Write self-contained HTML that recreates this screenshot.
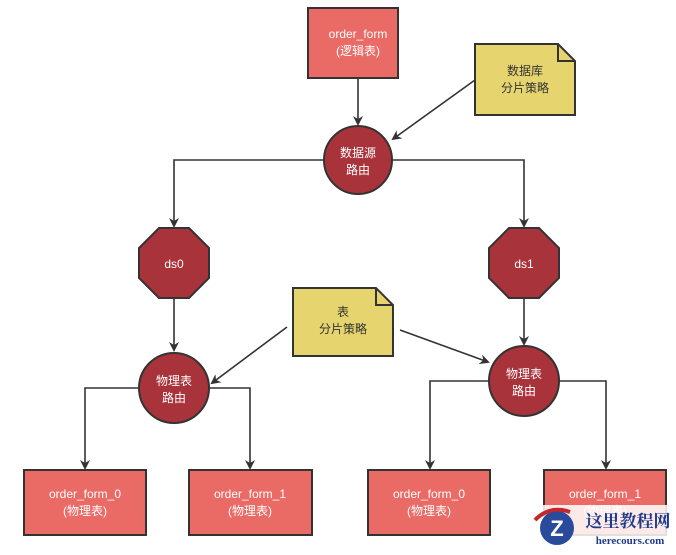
<!DOCTYPE html>
<html><head><meta charset="utf-8"><style>
body{margin:0;background:#fff;}
svg text{font-family:"Liberation Sans","Noto Sans CJK SC",sans-serif;font-size:12px;text-anchor:middle;}
</style></head><body>
<svg width="676" height="550" viewBox="0 0 676 550" xmlns="http://www.w3.org/2000/svg">
<defs><marker id="a" markerWidth="10" markerHeight="10" refX="8" refY="5" orient="auto" markerUnits="userSpaceOnUse"><path d="M0,0 L10,5 L0,10 L3,5 Z" fill="#333"/></marker></defs>
<g stroke="#333" stroke-width="1.6" fill="none">
<path d="M358,78 V124" marker-end="url(#a)"/>
<path d="M475,80 L393,139" marker-end="url(#a)"/>
<path d="M324,160 H174 V226" marker-end="url(#a)"/>
<path d="M392,160 H524 V226" marker-end="url(#a)"/>
<path d="M174,298 V350" marker-end="url(#a)"/>
<path d="M524,298 V344" marker-end="url(#a)"/>
<path d="M287,327 L212,383" marker-end="url(#a)"/>
<path d="M400,330 L488,362" marker-end="url(#a)"/>
<path d="M139,388 H85 V468" marker-end="url(#a)"/>
<path d="M209,388 H250 V468" marker-end="url(#a)"/>
<path d="M489,381 H430 V468" marker-end="url(#a)"/>
<path d="M559,381 H606 V468" marker-end="url(#a)"/>
</g>
<g stroke="#333" stroke-width="2">
<rect x="308" y="8" width="90" height="70" fill="#EA6B66"/>
<path d="M475,44 H558 L575,61 V115 H475 Z" fill="#E6D46F"/>
<path d="M558,44 V61 H575" fill="none"/>
<path d="M293,288 H376 L393,305 V356 H293 Z" fill="#E6D46F"/>
<path d="M376,288 V305 H393" fill="none"/>
<circle cx="358" cy="160" r="34" fill="#A9333A"/>
<polygon points="159,228 189,228 209,248 209,278 189,298 159,298 139,278 139,248" fill="#A9333A"/>
<polygon points="509,228 539,228 559,248 559,278 539,298 509,298 489,278 489,248" fill="#A9333A"/>
<circle cx="174" cy="388" r="35" fill="#A9333A"/>
<circle cx="524" cy="381" r="35" fill="#A9333A"/>
<rect x="24" y="470" width="122" height="65" fill="#EA6B66"/>
<rect x="189" y="470" width="123" height="65" fill="#EA6B66"/>
<rect x="368" y="470" width="122" height="65" fill="#EA6B66"/>
<rect x="544" y="470" width="122" height="65" fill="#EA6B66"/>
</g>
<g fill="#fff">
<text x="358" y="38">order_form</text><text x="358" y="55">(逻辑表)</text>
<text x="358" y="157">数据源</text><text x="358" y="174">路由</text>
<text x="174" y="268">ds0</text><text x="524" y="268">ds1</text>
<text x="174" y="385">物理表</text><text x="174" y="402">路由</text>
<text x="524" y="378">物理表</text><text x="524" y="395">路由</text>
<text x="85" y="498">order_form_0</text><text x="85" y="515">(物理表)</text>
<text x="250" y="498">order_form_1</text><text x="250" y="515">(物理表)</text>
<text x="429" y="498">order_form_0</text><text x="429" y="515">(物理表)</text>
<text x="605" y="498">order_form_1</text><text x="605" y="515">(物理表)</text>
</g>
<g fill="#333">
<text x="525" y="75">数据库</text><text x="525" y="92">分片策略</text>
<text x="343" y="316">表</text><text x="343" y="333">分片策略</text>
</g>
<rect x="530" y="505" width="146" height="45" fill="#fff" opacity="0.85"/>
<circle cx="557" cy="528" r="17" fill="#2a4a9c"/>
<text x="557" y="536" style="font-size:22px;font-weight:bold" fill="#fff">Z</text>
<path d="M535,520 Q550,505 570,512" stroke="#c0282d" stroke-width="4" fill="none"/>
<text x="628" y="527" style="font-size:17px;font-weight:bold;font-family:'Noto Serif CJK SC',serif" fill="#1e3a8a">这里教程网</text>
<text x="630" y="544" style="font-size:11px;font-weight:bold;font-family:'Liberation Serif',serif" fill="#1e3a8a">herecours.com</text>
</svg>
</body></html>
